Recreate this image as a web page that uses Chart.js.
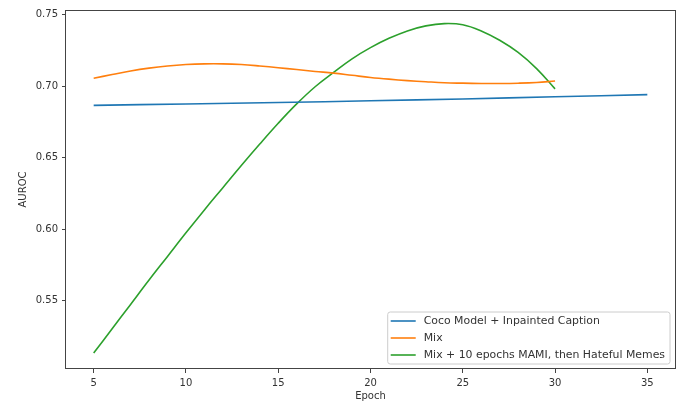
<!DOCTYPE html>
<html><head><meta charset="utf-8">
<script src="https://cdn.jsdelivr.net/npm/chart.js@4/dist/chart.umd.min.js"></script>
<style>html,body{margin:0;padding:0;background:#fff}#wrap{width:680px;height:404px}</style>
</head><body><div id="wrap"><canvas id="c" width="680" height="404"></canvas></div>
<script>
const seriesLabels = ["Coco Model + Inpainted Caption", "Mix", "Mix + 10 epochs MAMI, then Hateful Memes"];
const cocoEpochs = [5, 10, 15, 20, 25, 30, 35];
const cocoValues = [0.6865, 0.6875, 0.6885, 0.6897, 0.6910, 0.6925, 0.6940];
const mixEpochs = [5,6,7,8,9,10,11,12,13,14,15,16,17,18,19,20,21,22,23,24,25,26,27,28,29,30];
const mixValues = [0.7055,0.7080,0.7105,0.7125,0.7140,0.7150,0.7155,0.7155,0.7150,0.7140,0.7128,0.7115,0.7102,0.7090,0.7075,0.7060,0.7048,0.7038,0.7030,0.7023,0.7020,0.7018,0.7018,0.7020,0.7025,0.7035];
const mamiEpochs = [5,6,7,8,9,10,11,12,13,14,15,16,17,18,19,20,21,22,23,24,25,26,27,28,29,30];
const mamiValues = [0.5135,0.5305,0.5475,0.5645,0.5810,0.5975,0.6135,0.6290,0.6445,0.6595,0.6740,0.6875,0.6995,0.7095,0.7190,0.7268,0.7333,0.7385,0.7420,0.7436,0.7428,0.7385,0.7320,0.7235,0.7122,0.6980];
const seriesColors = ["#1f77b4", "#ff7f0e", "#2ca02c"];
const xTicks = [5, 10, 15, 20, 25, 30, 35];
const yTicks = [0.55, 0.60, 0.65, 0.70, 0.75];

const FONT = {family: '"DejaVu Sans", sans-serif', size: 10};
const TXT = '#333';

function pts(xs, ys) { return xs.map((x, i) => ({x: x, y: ys[i]})); }

const framePlugin = {
  id: 'frame',
  afterDatasetsDraw(chart) {
    const ctx = chart.ctx, a = chart.chartArea;
    ctx.save();
    ctx.strokeStyle = '#444';
    ctx.lineWidth = 1;
    ctx.strokeRect(Math.round(a.left) - 0.5, Math.round(a.top) + 0.5,
      Math.round(a.right - a.left) + 1, Math.round(a.bottom - a.top) - 1);
    ctx.restore();
  }
};

const legendPlugin = {
  id: 'mplLegend',
  afterDraw(chart) {
    const ctx = chart.ctx, a = chart.chartArea;
    const ds = chart.data.datasets;
    ctx.save();
    ctx.font = '10.9px "DejaVu Sans", sans-serif';
    const tw = Math.max(...ds.map(d => ctx.measureText(d.label).width));
    const padL = 3, handle = 25, gap = 8, padR = 5, rowH = 17, padT = 9;
    const w = padL + handle + gap + tw + padR;
    const h = padT * 2 + rowH * (ds.length - 1);
    const right = a.right - 5, bottom = a.bottom - 5;
    const left = right - w, top = bottom - h;
    const r = 2.5;
    ctx.beginPath();
    ctx.moveTo(left + r, top);
    ctx.lineTo(right - r, top);
    ctx.arcTo(right, top, right, top + r, r);
    ctx.lineTo(right, bottom - r);
    ctx.arcTo(right, bottom, right - r, bottom, r);
    ctx.lineTo(left + r, bottom);
    ctx.arcTo(left, bottom, left, bottom - r, r);
    ctx.lineTo(left, top + r);
    ctx.arcTo(left, top, left + r, top, r);
    ctx.closePath();
    ctx.fillStyle = 'rgba(255,255,255,0.8)';
    ctx.fill();
    ctx.strokeStyle = '#cccccc';
    ctx.lineWidth = 1;
    ctx.stroke();
    ds.forEach((d, i) => {
      const y = top + padT + i * rowH;
      ctx.strokeStyle = d.borderColor;
      ctx.lineWidth = d.borderWidth;
      ctx.beginPath();
      ctx.moveTo(left + padL, y);
      ctx.lineTo(left + padL + handle, y);
      ctx.stroke();
      ctx.fillStyle = TXT;
      ctx.textBaseline = 'middle';
      ctx.textAlign = 'left';
      ctx.fillText(d.label, left + padL + handle + gap, y);
    });
    ctx.restore();
  }
};

const datasets = [
  {label: seriesLabels[0], data: pts(cocoEpochs, cocoValues), borderColor: seriesColors[0]},
  {label: seriesLabels[1], data: pts(mixEpochs, mixValues), borderColor: seriesColors[1]},
  {label: seriesLabels[2], data: pts(mamiEpochs, mamiValues), borderColor: seriesColors[2]}
].map(d => Object.assign(d, {borderWidth: 1.6, pointRadius: 0, tension: 0.4, fill: false}));

new Chart(document.getElementById('c'), {
  type: 'line',
  data: {datasets: datasets},
  options: {
    responsive: false,
    animation: false,
    devicePixelRatio: 1,
    layout: {padding: {top: 9, right: 5, left: 0, bottom: 0}},
    plugins: {legend: {display: false}, tooltip: {enabled: false}},
    scales: {
      x: {
        type: 'linear', min: 3.5, max: 36.5,
        afterBuildTicks: s => { s.ticks = xTicks.map(v => ({value: v})); },
        afterFit: s => { s.height = 35; },
        ticks: {font: FONT, color: TXT, padding: 4, maxRotation: 0, autoSkip: false, callback: v => String(v)},
        grid: {drawOnChartArea: false, drawTicks: true, tickLength: 4, color: '#444'},
        border: {display: false},
        title: {display: true, text: 'Epoch', font: FONT, color: TXT, padding: {top: 0, bottom: 1.3}}
      },
      y: {
        type: 'linear', min: 0.5024, max: 0.7531,
        afterBuildTicks: s => { s.ticks = yTicks.map(v => ({value: v})); },
        afterFit: s => { s.width = 66; },
        ticks: {font: FONT, color: TXT, padding: 4, autoSkip: false, callback: v => v.toFixed(2)},
        grid: {drawOnChartArea: false, drawTicks: true, tickLength: 4, color: '#444'},
        border: {display: false},
        title: {display: true, text: 'AUROC', font: FONT, color: TXT, padding: {top: 17.6, bottom: 0}}
      }
    }
  },
  plugins: [framePlugin, legendPlugin]
});
</script>
</body></html>
